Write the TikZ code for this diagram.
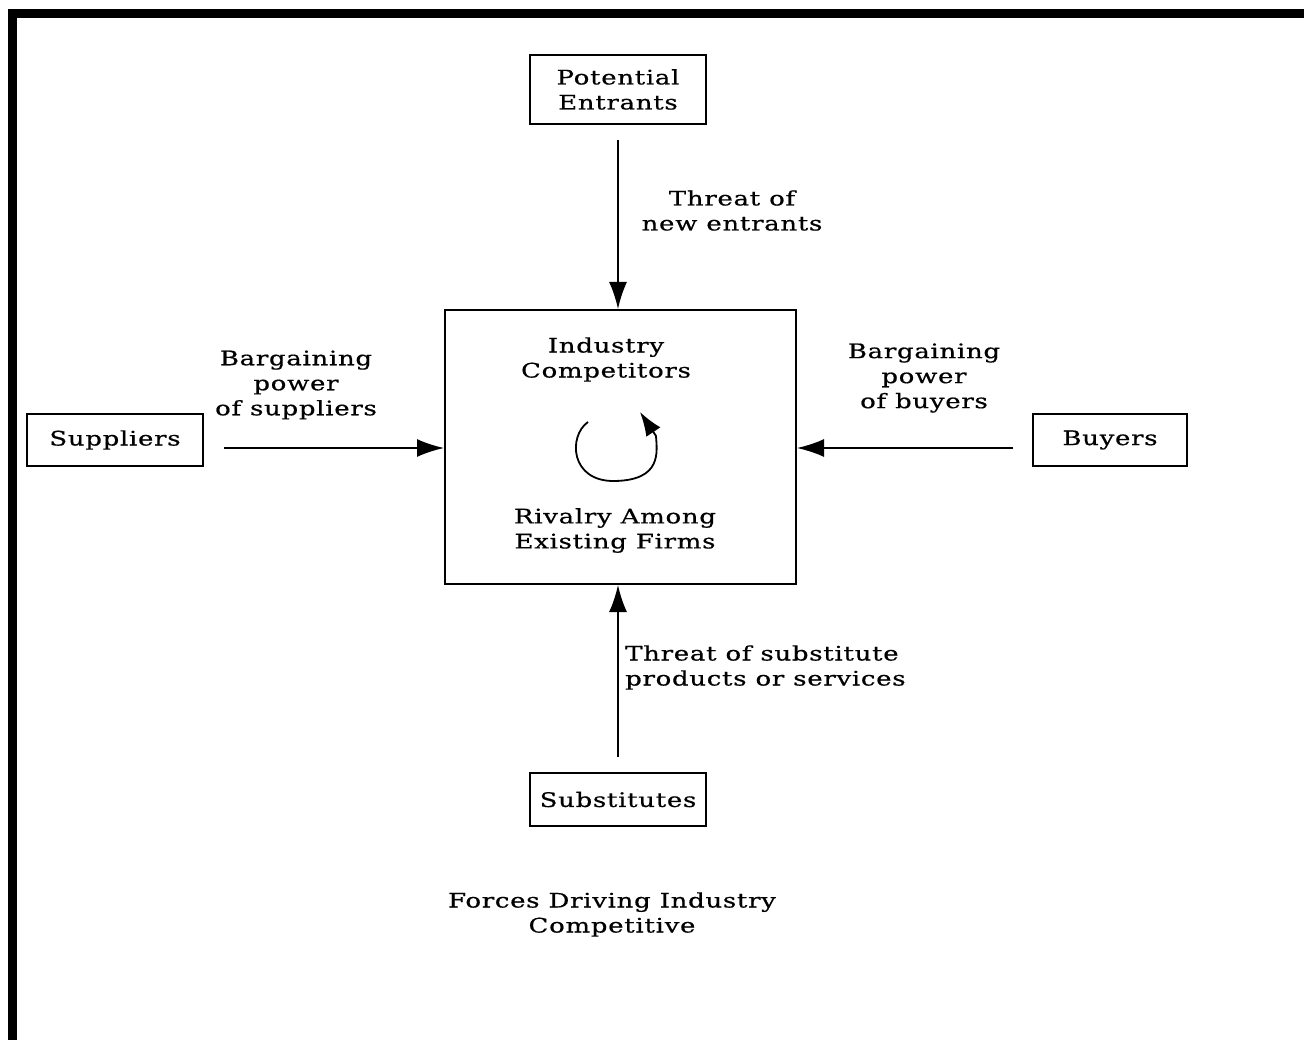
\documentclass[tikz,border=0pt]{standalone}
\usepackage{fontspec}
\setmainfont{DejaVu Serif}[FakeStretch=1.3,LetterSpace=3.5,FakeBold=0.6]
\usetikzlibrary{arrows.meta}
\begin{document}
\begin{tikzpicture}[x=1pt,y=-1pt,
  txt/.style={inner sep=0pt,align=center,font=\fontsize{20}{25}\selectfont},
  forcebox/.style={draw,line width=1.8pt,inner sep=0pt,align=center,
    font=\fontsize{20}{25}\selectfont},
  force/.style={line width=1.8pt,-{Latex[length=27pt,width=18pt]}}]
\useasboundingbox (0,0) rectangle (1304,1040);
% frame bars along the top and left edges
\fill (8,9) rectangle (1304,18);
\fill (8,9) rectangle (17,1040);

% the five forces
\node[forcebox,minimum width=176pt,minimum height=69pt] (pe) at (618,89.5) {Potential\\Entrants};
\node[forcebox,minimum width=351pt,minimum height=274pt] (ind) at (620.5,447) {};
\node[forcebox,minimum width=176pt,minimum height=52pt] (sup) at (115,440) {Suppliers};
\node[forcebox,minimum width=154pt,minimum height=52pt] (buy) at (1110,440) {Buyers};
\node[forcebox,minimum width=176pt,minimum height=53pt] (subs) at (618,799.5) {Substitutes};

% texts inside the industry box
\node[txt] (indtop) at (606,359.5) {Industry\\Competitors};
\node[txt] (indbot) at (615,530.5) {Rivalry Among\\Existing Firms};

% arrow end points
\coordinate (peout) at (618,140);
\coordinate (pein) at (618,309);
\coordinate (supout) at (224,448);
\coordinate (supin) at (444,448);
\coordinate (buyout) at (1013,448);
\coordinate (buyin) at (797,448);
\coordinate (subout) at (618,757);
\coordinate (subin) at (618,585);

\draw[force] (peout) -- (pein);
\draw[force] (supout) -- (supin);
\draw[force] (buyout) -- (buyin);
\draw[force] (subout) -- (subin);

% rivalry loop
\coordinate (loopstart) at (588,422);
\coordinate (looptip) at (640,412);
\draw[line width=1.8pt,-{Latex[length=24pt,width=17pt]}] (loopstart)
  .. controls (568,436) and (570,482) .. (615,481)
  .. controls (662,480) and (657,452) .. (656,436)
  -- (looptip);

% force labels
\node[txt] (lblpe) at (732,210.5) {Threat of\\new entrants};
\node[txt] (lblsup) at (296,385) {Bargaining\\power\\of suppliers};
\node[txt] (lblbuy) at (924,378) {Bargaining\\power\\of buyers};
\node[txt,align=left,anchor=west] (lblsub) at (625,667.5) {Threat of substitute\\products or services};

% caption
\node[txt] (caption) at (612,914.5) {Forces Driving Industry\\Competitive};
\end{tikzpicture}
\end{document}
